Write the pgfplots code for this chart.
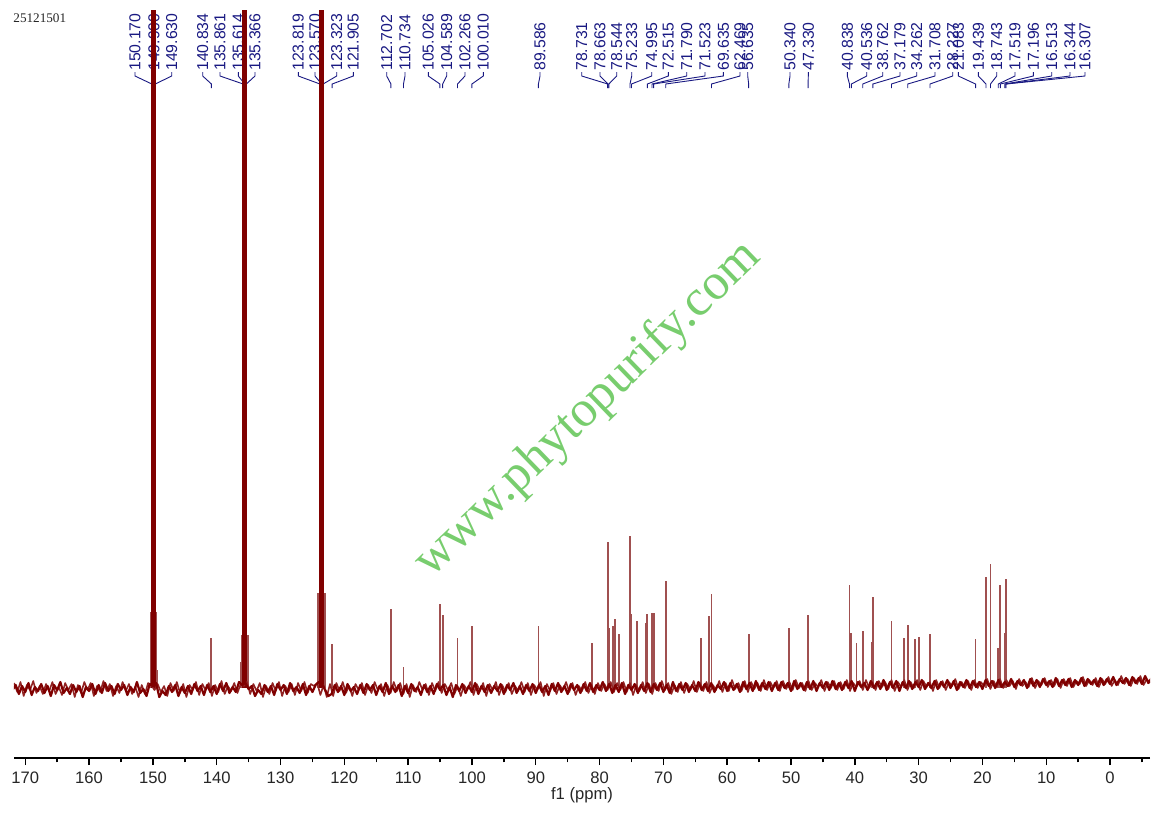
\documentclass[border=0pt]{standalone}
\usepackage{fontspec}
\setmainfont{Liberation Sans}
\newfontfamily\seriff{Liberation Serif}
\usepackage{pgfplots}
\pgfplotsset{compat=1.18}

\definecolor{spec}{RGB}{128,0,0}
\definecolor{specmid}{RGB}{145,35,35}
\definecolor{speclight}{RGB}{160,80,80}
\definecolor{lbl}{RGB}{25,25,130}
\definecolor{wm}{RGB}{120,205,110}

\begin{document}
\begin{tikzpicture}[x=0.5pt,y=-0.5pt]
\path[use as bounding box] (0,0) rectangle (1161,814);

\node[anchor=west, inner sep=0, font=\seriff\fontsize{6.6}{7}\selectfont, text=black!85] at (13,18) {25121501};

% peak labels, label x in px, peak position from ppm
\foreach \p/\lx in {150.170/135, 149.900/154, 149.630/171.7, 140.834/202.7, 135.861/220, 135.614/238.3, 135.366/255,
  123.819/298.3, 123.570/315, 123.323/336.7, 121.905/353.3, 112.702/386.7, 110.734/405, 105.026/428.3, 104.589/446.7,
  102.266/465, 100.010/483.3, 89.586/540, 78.731/581.7, 78.663/600, 78.544/616.7, 75.233/631.7, 74.995/651.7,
  72.515/668.3, 71.790/686.7, 71.523/705, 69.635/723.3, 62.469/740, 56.635/747.7, 50.340/790, 47.330/808.3,
  40.838/847.3, 40.536/866.7, 38.762/882.7, 37.179/900, 34.262/916.7, 31.708/935, 28.227/952.7, 21.083/958.3,
  19.439/978.3, 18.743/996.7, 17.519/1015, 17.196/1033.3, 16.513/1051.7, 16.344/1070, 16.307/1085}{
  \pgfmathsetmacro\px{25.3+(170-\p)*6.381}
  \draw[lbl, line width=0.45pt] (\lx,72) -- (\lx,76) -- (\px,84) -- (\px,88);
  \node[rotate=90, anchor=west, inner sep=0, text=lbl, font=\fontsize{7.9}{8}\selectfont] at (\lx,71) {\p};
}

\node[rotate=44, text=wm, font=\seriff\fontsize{25.6}{26}\selectfont] at (588,410) {www.phytopurify.com};

\begin{axis}[
  at={(7pt,-379pt)}, anchor=south west,
  scale only axis, width=568pt, height=374pt,
  x dir=reverse, xmin=-6.26, xmax=171.77, ymin=-70, ymax=678,
  axis x line*=bottom, axis y line=none,
  axis line style={line width=1pt},
  xtick={0,10,...,170}, minor xtick={-5,5,...,165},
  tick align=outside, major tick length=3.5pt, minor tick length=2.2pt,
  tick style={line width=0.7pt, black},
  /pgf/number format/assume math mode=true,
  xticklabel style={font=\fontsize{8.3}{9}\selectfont, text=black!85},
  xlabel={f1 (ppm)},
  xlabel style={font=\fontsize{8.3}{9}\selectfont, text=black!85, yshift=5pt},
]
% small peaks
\addplot[ycomb, speclight, line width=0.9pt] coordinates {
(140.834,50)(121.905,44)(112.702,79)(110.734,21)(105.026,84)(104.589,73)(102.266,50)(100.010,62)(89.586,62)(81.24,45)
(78.731,146)(78.663,103)(78.544,60)(77.95,62)(77.63,69)(76.96,54)(75.233,152)(74.995,74)(74.14,67)(72.75,65)
(72.515,74)(71.790,75)(71.523,75)(69.635,107)(64.11,50)(62.81,72)(62.469,94)(56.635,54)(50.340,60)(47.330,73)
(40.838,103)(40.536,55)(39.74,45)(38.762,57)(37.36,46)(37.179,91)(34.262,67)(32.34,50)(31.708,63)(30.53,49)
(29.99,51)(28.227,54)(21.083,49)(19.439,111)(18.743,124)(17.519,40)(17.196,103)(16.513,55)(16.344,60)(16.307,109)
(150.35,31)(150.3,76)(149.5,76)(149.35,18)(136.1,53)(135.1,53)(136.25,26)(124.1,95)(123.05,95)(123.97,31)
};
% solvent triplets, off scale
\addplot[ycomb, spec, line width=1pt] coordinates {
(150.170,900)(149.900,900)(149.630,900)(135.861,900)(135.614,900)(135.366,900)(123.819,900)(123.570,900)(123.323,900)
};
% baseline noise, points between the first set
\addplot[specmid, line width=0.8pt, line join=round] coordinates {
(171.75,5)(171.25,-4)(170.75,6)(170.25,-8)(169.75,3)(169.25,-2)(168.75,7)(168.25,-5)(167.75,2)(167.25,-6)
(166.75,4)(166.25,-3)(165.75,6)(165.25,-6)(164.75,1)(164.25,-7)(163.75,5)(163.25,-2)(162.75,4)(162.25,-9)
(161.75,3)(161.25,-5)(160.75,6)(160.25,-2)(159.75,5)(159.25,-8)(158.75,2)(158.25,-4)(157.75,7)(157.25,-3)
(156.75,4)(156.25,-8)(155.75,2)(155.25,-5)(154.75,6)(154.25,-3)(153.75,4)(153.25,-6)(152.75,1)(152.25,-9)
(151.75,3)(151.25,-6)(150.75,5)(150.25,3)(149.75,-2)(149.25,4)(148.75,-4)(148.25,2)(147.75,-8)(147.25,5)
(146.75,-3)(146.25,6)(145.75,-5)(145.25,4)(144.75,-9)(144.25,3)(143.75,-2)(143.25,6)(142.75,-7)(142.25,4)
(141.75,-2)(141.25,5)(140.75,-8)(140.25,3)(139.75,-4)(139.25,7)(138.75,-6)(138.25,2)(137.75,-3)(137.25,5)
(136.75,-5)(136.25,4)(135.75,2)(135.25,6)(134.75,-6)(134.25,4)(133.75,-3)(133.25,5)(132.75,-9)(132.25,2)
(131.75,-6)(131.25,5)(130.75,-3)(130.25,6)(129.75,-8)(129.25,2)(128.75,-4)(128.25,4)(127.75,-7)(127.25,5)
(126.75,-3)(126.25,6)(125.75,-5)(125.25,4)(124.75,2)(124.25,5)(123.75,-7)(123.25,3)(122.75,-9)(122.25,4)
(121.75,-8)(121.25,5)(120.75,-3)(120.25,6)(119.75,-5)(119.25,2)(118.75,-8)(118.25,4)(117.75,-2)(117.25,5)
(116.75,-7)(116.25,3)(115.75,-5)(115.25,6)(114.75,-2)(114.25,4)(113.75,-8)(113.25,3)(112.75,-5)(112.25,6)
(111.75,-3)(111.25,5)(110.75,-6)(110.25,4)(109.75,-9)(109.25,3)(108.75,-4)(108.25,6)(107.75,-2)(107.25,4)
(106.75,-7)(106.25,5)(105.75,-3)(105.25,6)(104.75,-5)(104.25,4)(103.75,-2)(103.25,5)(102.75,-6)(102.25,2)
(101.75,-8)(101.25,3)(100.75,-2)(100.25,6)(99.75,-7)(99.25,4)(98.75,-3)(98.25,5)(97.75,-8)(97.25,4)
(96.75,-2)(96.25,6)(95.75,-7)(95.25,3)(94.75,-4)(94.25,5)(93.75,-6)(93.25,2)(92.75,-3)(92.25,6)
(91.75,-4)(91.25,5)(90.75,-7)(90.25,3)(89.75,-2)(89.25,6)(88.75,-8)(88.25,4)(87.75,-3)(87.25,5)
(86.75,-6)(86.25,3)(85.75,-2)(85.25,6)(84.75,-4)(84.25,5)(83.75,-7)(83.25,2)(82.75,-3)(82.25,6)
(81.75,-5)(81.25,3)(80.75,-6)(80.25,5)(79.75,-3)(79.25,4)(78.75,-2)(78.25,6)(77.75,-4)(77.25,5)
(76.75,-2)(76.25,6)(75.75,-4)(75.25,5)(74.75,-7)(74.25,3)(73.75,-3)(73.25,6)(72.75,-5)(72.25,4)
(71.75,-6)(71.25,5)(70.75,-3)(70.25,7)(69.75,-2)(69.25,5)(68.75,-6)(68.25,3)(67.75,-4)(67.25,6)
(66.75,-5)(66.25,4)(65.75,-2)(65.25,7)(64.75,-4)(64.25,5)(63.75,-3)(63.25,6)(62.75,-5)(62.25,3)
(61.75,-2)(61.25,7)(60.75,-4)(60.25,5)(59.75,-3)(59.25,8)(58.75,-1)(58.25,5)(57.75,-3)(57.25,7)
(56.75,-4)(56.25,6)(55.75,-1)(55.25,5)(54.75,-3)(54.25,8)(53.75,-2)(53.25,6)(52.75,0)(52.25,7)
(51.75,-3)(51.25,7)(50.75,-1)(50.25,6)(49.75,-2)(49.25,8)(48.75,0)(48.25,5)(47.75,-3)(47.25,7)
(46.75,-2)(46.25,5)(45.75,1)(45.25,8)(44.75,-3)(44.25,6)(43.75,0)(43.25,7)(42.75,-2)(42.25,6)
(41.75,-1)(41.25,8)(40.75,-3)(40.25,5)(39.75,1)(39.25,7)(38.75,-2)(38.25,8)(37.75,0)(37.25,6)
(36.75,-2)(36.25,7)(35.75,1)(35.25,6)(34.75,-1)(34.25,8)(33.75,-3)(33.25,6)(32.75,1)(32.25,8)
(31.75,-2)(31.25,6)(30.75,0)(30.25,8)(29.75,-2)(29.25,7)(28.75,1)(28.25,6)(27.75,-3)(27.25,8)
(26.75,0)(26.25,7)(25.75,-2)(25.25,6)(24.75,2)(24.25,9)(23.75,-1)(23.25,6)(22.75,0)(22.25,7)
(21.75,-2)(21.25,8)(20.75,0)(20.25,6)(19.75,2)(19.25,9)(18.75,-1)(18.25,7)(17.75,1)(17.25,9)
(16.75,0)(16.25,8)(15.75,2)(15.25,7)(14.75,-1)(14.25,9)(13.75,2)(13.25,6)(12.75,1)(12.25,10)
(11.75,0)(11.25,7)(10.75,3)(10.25,10)(9.75,1)(9.25,8)(8.75,2)(8.25,9)(7.75,0)(7.25,9)
(6.75,2)(6.25,10)(5.75,1)(5.25,7)(4.75,4)(4.25,11)(3.75,2)(3.25,8)(2.75,3)(2.25,10)
(1.75,1)(1.25,9)(0.75,4)(0.25,11)(-0.25,2)(-0.75,8)(-1.25,3)(-1.75,12)(-2.25,4)(-2.75,9)
(-3.25,2)(-3.75,10)(-4.25,4)(-4.75,12)(-5.25,3)(-5.75,9)(-6.25,5)
};
% baseline noise
\addplot[spec, line width=1.1pt, line join=round] coordinates {
(172,-2)(171.5,3)(171,-6)(170.5,2)(170,-4)(169.5,5)(169,-7)(168.5,1)(168,-3)(167.5,4)
(167,-5)(166.5,2)(166,-8)(165.5,3)(165,-2)(164.5,6)(164,-5)(163.5,0)(163,-6)(162.5,3)
(162,-4)(161.5,2)(161,-9)(160.5,1)(160,-3)(159.5,4)(159,-6)(158.5,3)(158,-5)(157.5,5)
(157,-3)(156.5,2)(156,-6)(155.5,4)(155,-2)(154.5,3)(154,-7)(153.5,1)(153,-4)(152.5,6)
(152,-5)(151.5,-1)(151,-8)(150.5,4)(150,2)(149.5,5)(149,-9)(148.5,-3)(148,-7)(147.5,2)
(147,-4)(146.5,3)(146,-8)(145.5,1)(145,-5)(144.5,2)(144,-6)(143.5,4)(143,-3)(142.5,2)
(142,-7)(141.5,3)(141,-4)(140.5,2)(140,-6)(139.5,4)(139,-3)(138.5,5)(138,-5)(137.5,1)
(137,-4)(136.5,6)(136,3)(135.5,5)(135,-1)(134.5,2)(134,-8)(133.5,-2)(133,-6)(132.5,3)
(132,-4)(131.5,2)(131,-7)(130.5,4)(130,-2)(129.5,3)(129,-6)(128.5,5)(128,-3)(127.5,1)
(127,-5)(126.5,4)(126,-7)(125.5,2)(125,-4)(124.5,3)(124,6)(123.5,4)(123,-2)(122.5,-8)
(122,-6)(121.5,3)(121,-4)(120.5,2)(120,-7)(119.5,4)(119,-3)(118.5,1)(118,-6)(117.5,3)
(117,-5)(116.5,4)(116,-2)(115.5,3)(115,-7)(114.5,2)(114,-4)(113.5,5)(113,-6)(112.5,2)
(112,-4)(111.5,3)(111,-8)(110.5,2)(110,-5)(109.5,4)(109,-3)(108.5,1)(108,-7)(107.5,3)
(107,-4)(106.5,2)(106,-6)(105.5,4)(105,-2)(104.5,3)(104,-7)(103.5,1)(103,-9)(102.5,3)
(102,-3)(101.5,4)(101,-5)(100.5,2)(100,-4)(99.5,5)(99,-6)(98.5,2)(98,-4)(97.5,3)
(97,-5)(96.5,2)(96,-3)(95.5,4)(95,-6)(94.5,3)(94,-2)(93.5,5)(93,-5)(92.5,2)
(92,-6)(91.5,3)(91,-3)(90.5,4)(90,-5)(89.5,3)(89,-4)(88.5,2)(88,-7)(87.5,4)
(87,-3)(86.5,5)(86,-4)(85.5,2)(85,-6)(84.5,4)(84,-2)(83.5,3)(83,-5)(82.5,4)
(82,-3)(81.5,5)(81,-4)(80.5,3)(80,-2)(79.5,6)(79,-3)(78.5,4)(78,-5)(77.5,3)
(77,-4)(76.5,5)(76,-6)(75.5,3)(75,-2)(74.5,4)(74,-5)(73.5,3)(73,-3)(72.5,5)
(72,-4)(71.5,4)(71,-2)(70.5,5)(70,-4)(69.5,3)(69,-5)(68.5,6)(68,-3)(67.5,4)
(67,-2)(66.5,5)(66,-4)(65.5,3)(65,-3)(64.5,6)(64,-2)(63.5,4)(63,-3)(62.5,5)
(62,-4)(61.5,3)(61,-1)(60.5,6)(60,-3)(59.5,5)(59,-2)(58.5,4)(58,-4)(57.5,6)
(57,-1)(56.5,5)(56,-3)(55.5,7)(55,-2)(54.5,5)(54,-1)(53.5,6)(53,-3)(52.5,5)
(52,-2)(51.5,6)(51,0)(50.5,5)(50,-3)(49.5,7)(49,-1)(48.5,5)(48,-2)(47.5,6)
(47,-1)(46.5,7)(46,-3)(45.5,5)(45,0)(44.5,6)(44,-2)(43.5,7)(43,-1)(42.5,5)
(42,-2)(41.5,6)(41,0)(40.5,7)(40,-3)(39.5,6)(39,1)(38.5,5)(38,-2)(37.5,7)
(37,0)(36.5,6)(36,-1)(35.5,8)(35,-2)(34.5,6)(34,0)(33.5,7)(33,-3)(32.5,6)
(32,0)(31.5,7)(31,-1)(30.5,6)(30,1)(29.5,8)(29,-1)(28.5,5)(28,0)(27.5,7)
(27,-1)(26.5,6)(26,1)(25.5,8)(25,0)(24.5,7)(24,-2)(23.5,6)(23,1)(22.5,8)
(22,0)(21.5,7)(21,1)(20.5,6)(20,-1)(19.5,8)(19,2)(18.5,7)(18,0)(17.5,8)
(17,1)(16.5,6)(16,2)(15.5,9)(15,1)(14.5,7)(14,3)(13.5,8)(13,0)(12.5,9)
(12,2)(11.5,8)(11,1)(10.5,9)(10,3)(9.5,7)(9,1)(8.5,10)(8,2)(7.5,8)
(7,3)(6.5,9)(6,1)(5.5,8)(5,3)(4.5,10)(4,2)(3.5,9)(3,4)(2.5,8)
(2,2)(1.5,10)(1,3)(0.5,9)(0,4)(-0.5,11)(-1,3)(-1.5,9)(-2,5)(-2.5,10)
(-3,3)(-3.5,11)(-4,5)(-4.5,10)(-5,4)(-5.5,12)(-6,5)(-6.5,10)
};
\end{axis}
\end{tikzpicture}
\end{document}
